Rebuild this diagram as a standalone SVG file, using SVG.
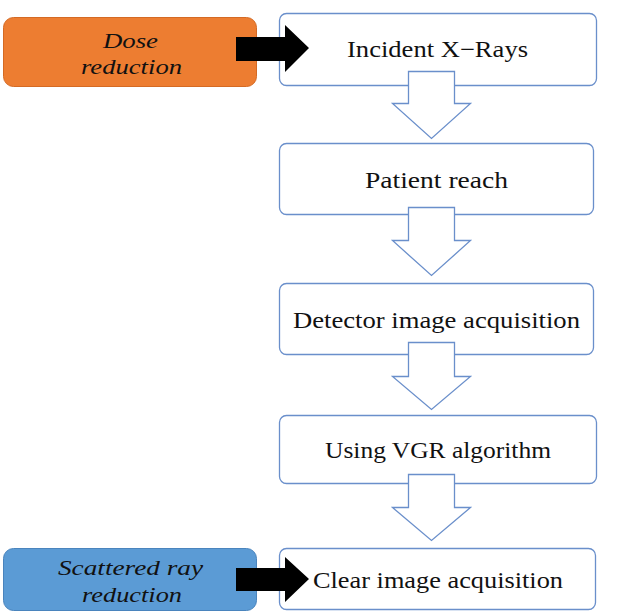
<svg xmlns="http://www.w3.org/2000/svg" width="617" height="613" viewBox="0 0 617 613">
<style>
.box{fill:#fff;stroke:#6A8FCB;stroke-width:1.3}
.harrow{fill:#fff;stroke:#6A8FCB;stroke-width:1.3;stroke-linejoin:miter}
.barrow{fill:#000}
.t{font-family:"Liberation Serif","DejaVu Serif",serif;font-size:23px;fill:#111}
.it{font-family:"Liberation Serif","DejaVu Serif",serif;font-size:22px;font-style:italic;fill:#111}
</style>
<rect width="617" height="613" fill="#fff"/>
<g id="dose">
<rect x="3.5" y="17.5" width="253" height="69" rx="10" fill="#ED7D31" stroke="#D46A24" stroke-width="1"/>
<text class="it" x="103" y="48" textLength="55" lengthAdjust="spacingAndGlyphs">Dose</text>
<text class="it" x="81" y="74" textLength="101" lengthAdjust="spacingAndGlyphs">reduction</text>
</g>
<g id="scatter">
<rect x="3.5" y="548.5" width="253" height="62" rx="10" fill="#5B9BD5" stroke="#4A84BD" stroke-width="1"/>
<text class="it" x="58" y="575" textLength="145" lengthAdjust="spacingAndGlyphs">Scattered ray</text>
<text class="it" x="82" y="602" textLength="100" lengthAdjust="spacingAndGlyphs">reduction</text>
</g>
<g id="n1">
<rect class="box" x="279.5" y="13.5" width="317" height="72" rx="7"/>
<text class="t" x="347" y="57" textLength="181" lengthAdjust="spacingAndGlyphs">Incident X−Rays</text>
</g>
<g id="n2">
<rect class="box" x="279.5" y="143.5" width="314" height="71" rx="7"/>
<text class="t" x="365" y="188" textLength="143" lengthAdjust="spacingAndGlyphs">Patient reach</text>
</g>
<g id="n3">
<rect class="box" x="279.5" y="283.5" width="314" height="71" rx="7"/>
<text class="t" x="293" y="328" textLength="287" lengthAdjust="spacingAndGlyphs">Detector image acquisition</text>
</g>
<g id="n4">
<rect class="box" x="279.5" y="415.5" width="317" height="68" rx="7"/>
<text class="t" x="325" y="458" textLength="226" lengthAdjust="spacingAndGlyphs">Using VGR algorithm</text>
</g>
<g id="n5">
<rect class="box" x="279.5" y="548.5" width="316" height="61" rx="7"/>
<text class="t" x="313" y="588" textLength="250" lengthAdjust="spacingAndGlyphs">Clear image acquisition</text>
</g>
<g id="connectors">
<polygon class="barrow" points="236,37 285,37 285,25 309,48 285,72 285,61 236,61"/>
<polygon class="barrow" points="236,568 285,568 285,557 309,579 285,602 285,591 236,591"/>
<polygon class="harrow" points="408.5,71.5 454.5,71.5 454.5,103.5 470.5,103.5 431.5,138.5 392.5,103.5 408.5,103.5"/>
<polygon class="harrow" points="408.5,207.5 454.5,207.5 454.5,240.5 470.5,240.5 431.5,275.5 392.5,240.5 408.5,240.5"/>
<polygon class="harrow" points="408.5,342.5 454.5,342.5 454.5,376.5 470.5,376.5 431.5,409.5 392.5,376.5 408.5,376.5"/>
<polygon class="harrow" points="408.5,474.5 454.5,474.5 454.5,507.5 470.5,507.5 431.5,540.5 392.5,507.5 408.5,507.5"/>
</g>
</svg>
